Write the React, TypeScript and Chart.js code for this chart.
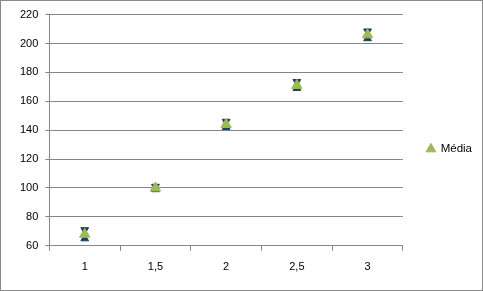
import React, { useEffect, useRef } from "react";
import { Chart, registerables } from "chart.js";

Chart.register(...registerables);

const categories = ["1", "1,5", "2", "2,5", "3"];
const mediaValues = [68, 100, 144, 171, 206];
const upperValues = [71, 101, 146, 173.5, 208.5];
const lowerValues = [65, 99, 142, 169, 203.5];
const yTicks = { min: 60, max: 220, step: 20 };

const GREEN = "#9BBB59";
const DARK = "#1F3F5A";
const GRID = "#868686";
const FONT = "'Liberation Sans', Arial, sans-serif";

export default function App() {
  const ref = useRef<HTMLCanvasElement | null>(null);
  useEffect(() => {
    if (!ref.current) return;
    const chart = new Chart(ref.current, {
      type: "line",
      data: {
        labels: categories,
        datasets: [
          {
            label: "Média",
            data: mediaValues,
            showLine: false,
            pointStyle: "triangle",
            pointRadius: 6,
            pointBackgroundColor: GREEN,
            pointBorderColor: GREEN,
            pointBorderWidth: 1,
            backgroundColor: GREEN,
            borderColor: GREEN,
          },
          {
            label: "upper",
            data: upperValues,
            showLine: false,
            pointStyle: "triangle",
            rotation: 180,
            pointRadius: 4.5,
            pointBackgroundColor: DARK,
            pointBorderColor: DARK,
            borderColor: DARK,
            backgroundColor: DARK,
          },
          {
            label: "lower",
            data: lowerValues,
            showLine: false,
            pointStyle: "triangle",
            pointRadius: 4.5,
            pointBackgroundColor: DARK,
            pointBorderColor: DARK,
            borderColor: DARK,
            backgroundColor: DARK,
          },
        ],
      },
      options: {
        animation: false,
        responsive: false,
        layout: { padding: { left: 12, right: 0, top: 13, bottom: 6 } },
        plugins: {
          tooltip: { enabled: false },
          legend: {
            position: "right",
            labels: {
              usePointStyle: true,
              pointStyle: "triangle",
              boxWidth: 8,
              boxHeight: 8,
              padding: 24,
              color: "#000",
              font: { family: FONT, size: 11.5 },
              filter: (item) => item.text === "Média",
            },
          },
        },
        scales: {
          x: {
            type: "category",
            offset: true,
            grid: {
              offset: true,
              drawOnChartArea: false,
              drawTicks: true,
              tickLength: 5,
              color: GRID,
            },
            border: { color: GRID },
            ticks: { color: "#000", font: { family: FONT, size: 11 }, padding: 10 },
          },
          y: {
            min: yTicks.min,
            max: yTicks.max,
            ticks: {
              stepSize: yTicks.step,
              color: "#000",
              font: { family: FONT, size: 11 },
              padding: 7,
            },
            grid: { color: GRID, tickLength: 4 },
            border: { color: GRID },
          },
        },
      },
    });
    return () => chart.destroy();
  }, []);
  return (
    <div
      style={{
        position: "absolute",
        left: 0,
        top: 0,
        width: 483,
        height: 291,
        border: "1px solid #8a8a8a",
        boxSizing: "border-box",
        background: "#fff",
      }}
    >
      <canvas ref={ref} width={481} height={289} style={{ display: "block" }} />
    </div>
  );
}
